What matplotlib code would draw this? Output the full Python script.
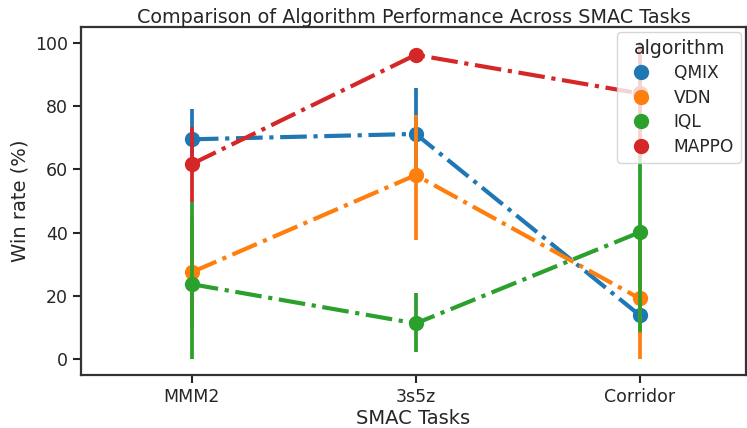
import numpy as np
import matplotlib
matplotlib.use("Agg")
import matplotlib.pyplot as plt
import seaborn as sns

tasks = ["MMM2", "3s5z", "Corridor"]
algorithms = ["QMIX", "VDN", "IQL", "MAPPO"]

# mean win rate per task, with lower/upper ends of the error bars
qmix_mean = [69.5, 71.2, 13.9]
qmix_lo = [60.0, 57.0, 8.0]
qmix_hi = [79.0, 85.7, 20.0]

vdn_mean = [27.5, 58.2, 19.2]
vdn_lo = [10.0, 37.7, 0.2]
vdn_hi = [45.0, 77.2, 38.0]

iql_mean = [23.7, 11.3, 40.1]
iql_lo = [0.0, 2.3, 8.6]
iql_hi = [49.7, 20.8, 65.0]

mappo_mean = [61.7, 96.2, 84.0]
mappo_lo = [49.7, 95.5, 63.5]
mappo_hi = [73.5, 97.0, 100.4]

means = [qmix_mean, vdn_mean, iql_mean, mappo_mean]
lows = [qmix_lo, vdn_lo, iql_lo, mappo_lo]
highs = [qmix_hi, vdn_hi, iql_hi, mappo_hi]

sns.set_theme(style="ticks")
plt.rcParams["font.family"] = ["DejaVu Sans"]
colors = sns.color_palette("tab10", 4)

fig = plt.figure(figsize=(7.47, 4.28), dpi=100)
ax = fig.add_axes([81 / 747, 53 / 428, 665 / 747, 348 / 428])

x = np.arange(len(tasks))
for name, m, lo, hi, c in zip(algorithms, means, lows, highs, colors):
    ax.plot(x, m, linestyle="-.", color=c, linewidth=3.0, marker="o",
            markersize=10, label=name)
    ax.vlines(x, lo, hi, color=c, linewidth=2.7)

ax.set_xlim(-0.495, 2.475)
ax.set_ylim(-5, 105)
ax.set_xticks(x)
ax.set_xticklabels(tasks)
ax.set_yticks([0, 20, 40, 60, 80, 100])
ax.tick_params(labelsize=12.5, length=6, width=1.5, colors=".15")
for s in ax.spines.values():
    s.set_linewidth(1.6)
    s.set_color(".2")

ax.set_xlabel("SMAC Tasks", fontsize=14, labelpad=2)
ax.set_ylabel("Win rate (%)", fontsize=14)
ax.set_title("Comparison of Algorithm Performance Across SMAC Tasks",
             fontsize=13.75, pad=3)

handles = [plt.Line2D([], [], linestyle="", marker="o", markersize=10, color=c)
           for c in colors]
ax.legend(handles, algorithms, title="algorithm", loc="upper right",
          fontsize=12.3, title_fontsize=13.6, borderaxespad=0.3,
          handletextpad=0.9, labelspacing=0.38)

fig.savefig("out.png", dpi=100)
